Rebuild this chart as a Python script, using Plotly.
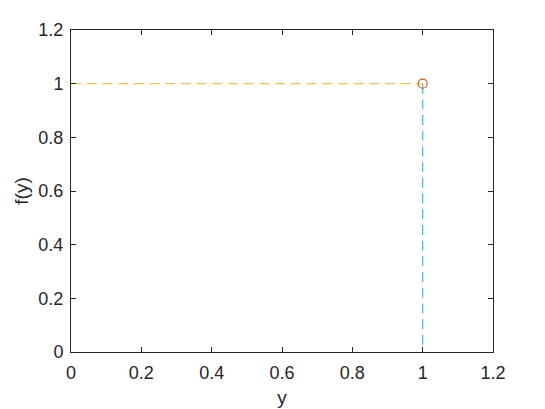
import plotly.graph_objects as go

# data
x_pt = [1]
y_pt = [1]
h_x = [0, 1]
h_y = [1, 1]
v_x = [1, 1]
v_y = [1, 0]
ticks = [0, 0.2, 0.4, 0.6, 0.8, 1, 1.2]
tick_text = ["0", "0.2", "0.4", "0.6", "0.8", "1", "1.2"]

fig = go.Figure()
fig.add_trace(go.Scatter(x=v_x, y=v_y, mode="lines",
                         line=dict(color="#4DBEEE", width=1.3, dash="10px,5.7px")))
fig.add_trace(go.Scatter(x=h_x, y=h_y, mode="lines", opacity=0.75,
                         line=dict(color="#EDB120", width=1.2, dash="10px,5.7px")))
fig.add_trace(go.Scatter(x=x_pt, y=y_pt, mode="markers",
                         marker=dict(symbol="circle-open", size=9,
                                     color="#D95319", line=dict(width=1.2))))

axis = dict(range=[0, 1.2], tickvals=ticks, ticktext=tick_text,
            showgrid=False, zeroline=False, showline=True, mirror="ticks",
            linecolor="#262626", linewidth=1, ticks="inside", ticklen=5,
            tickcolor="#262626", tickfont=dict(size=18, color="#262626"))

# page has an 8px body margin, so margins are shifted to compensate
fig.update_layout(
    width=545, height=409,
    margin=dict(l=63, r=60, t=22, b=65),
    showlegend=False,
    plot_bgcolor="white", paper_bgcolor="white",
    font=dict(family="Liberation Sans, Arial, sans-serif", color="#262626"),
    xaxis=dict(axis, ticklabelstandoff=4,
               title=dict(text="y", font=dict(size=19), standoff=9)),
    yaxis=dict(axis, ticklabelstandoff=3,
               title=dict(text="f(y)", font=dict(size=19), standoff=4)),
)

fig.write_html("out.html")
